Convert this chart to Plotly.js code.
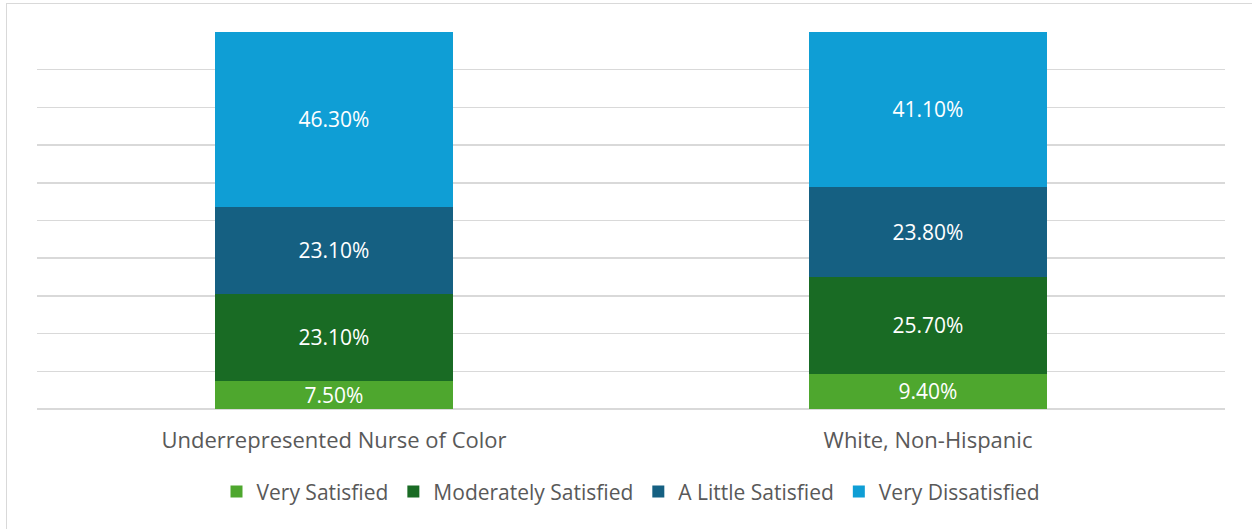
<!DOCTYPE html>
<html><head><meta charset="utf-8">
<script src="https://cdn.plot.ly/plotly-3.0.1.min.js"></script>
<style>
html,body{margin:0;padding:0;background:#fff;}
#frame{position:absolute;left:6px;top:3px;width:1246px;height:530px;border-left:1px solid #d9d9d9;border-top:1px solid #d9d9d9;box-sizing:border-box;pointer-events:none;z-index:5;}
#chart{position:absolute;left:0;top:0;width:1253px;height:529px;}
</style></head>
<body>
<div id="chart"></div>
<div id="frame"></div>
<script>
const categories = ["Underrepresented Nurse of Color", "White, Non-Hispanic"];
const seriesNames = ["Very Satisfied", "Moderately Satisfied", "A Little Satisfied", "Very Dissatisfied"];
const verySatisfied = [7.5, 9.4];
const moderatelySatisfied = [23.1, 25.7];
const aLittleSatisfied = [23.1, 23.8];
const veryDissatisfied = [46.3, 41.1];
const colors = ["#4EA72E", "#196B24", "#156082", "#0F9ED5"];
const values = [verySatisfied, moderatelySatisfied, aLittleSatisfied, veryDissatisfied];
const fontFam = "'Open Sans', Roboto, sans-serif";

const traces = values.map((v, i) => ({
  type: 'bar', name: seriesNames[i], x: categories, y: v,
  marker: {color: colors[i]},
  texttemplate: '%{y:.2f}%', textposition: 'inside', insidetextanchor: 'middle',
  constraintext: 'none', cliponaxis: false,
  textfont: {color: '#ffffff', size: 21, family: fontFam},
  hoverinfo: 'none'
}));

const layout = {
  width: 1253, height: 529,
  margin: {l: 37, r: 28, t: 32, b: 120},
  barmode: 'stack', bargap: 0.6,
  paper_bgcolor: '#ffffff', plot_bgcolor: '#ffffff',
  showlegend: true,
  legend: {orientation: 'h', x: 0.5, xanchor: 'center', y: -0.22, yanchor: 'middle',
    font: {size: 21, color: '#595959', family: fontFam}, traceorder: 'normal', itemwidth: 30},
  xaxis: {tickfont: {size: 22, color: '#595959', family: fontFam}, ticks: 'outside', ticklen: 12, tickcolor: 'rgba(0,0,0,0)', showline: false},
  yaxis: {range: [0, 100], dtick: 10, showticklabels: false, gridcolor: '#d9d9d9', gridwidth: 1.5, zeroline: true, zerolinecolor: '#d9d9d9', zerolinewidth: 1.5, fixedrange: true},
  font: {family: fontFam}
};
Plotly.newPlot('chart', traces, layout, {displayModeBar: false, staticPlot: true});
</script>
</body></html>
